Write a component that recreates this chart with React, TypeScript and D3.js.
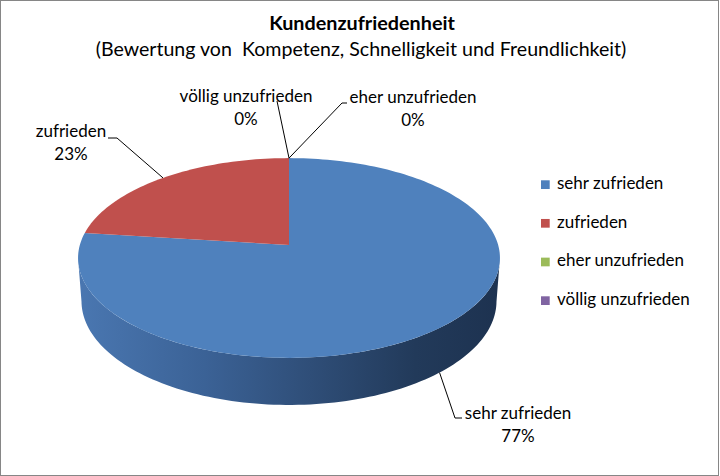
import * as d3 from "d3";
import React from "react";

// chart values
const categories = ["sehr zufrieden", "zufrieden", "eher unzufrieden", "völlig unzufrieden"];
const values = [77, 23, 0, 0];
const percentLabels = ["77%", "23%", "0%", "0%"];

const colors = ["#4f81bd", "#c0504d", "#9bbb59", "#8064a2"];

const width = 720;
const height = 476;
const font = "Lato, 'Liberation Sans', sans-serif";

// 3d view of the pie (perspective camera looking down)
const cx = 289;
const cy = 245;
const focal = 1420;
const dist = 6.789;
const tilt = (28 * Math.PI) / 180;
const thick = 0.2358;
const sinT = Math.sin(tilt);
const cosT = Math.cos(tilt);

const project = (a: number, level: number): [number, number] => {
  const X = Math.sin(a);
  const Z = -Math.cos(a);
  const Y = level * thick;
  const depth = dist - Y * sinT - Z * cosT;
  return [cx + (focal * X) / depth, cy + (focal * (Z * sinT - Y * cosT)) / depth];
};

const sample = (a0: number, a1: number, level: number) => {
  const n = Math.max(2, Math.ceil((Math.abs(a1 - a0) / (2 * Math.PI)) * 240));
  return d3.range(n + 1).map((i) => project(a0 + ((a1 - a0) * i) / n, level));
};

// silhouette angles of the rim (where the screen x is extreme)
const rimAngles = d3.range(0, 2 * Math.PI, Math.PI / 1800);
const rightA = rimAngles[d3.maxIndex(rimAngles, (a) => project(a, 0)[0])];
const leftA = rimAngles[d3.minIndex(rimAngles, (a) => project(a, 0)[0])];

// label placement (text centre, first baseline, leader elbow and tail)
const labelLayout = [
  { tx: 518, ty: 419, elbow: [455, 418], tail: [462, 418] },
  { tx: 71, ty: 137, elbow: [117, 138], tail: [108, 138] },
  { tx: 413, ty: 103, elbow: [342, 103], tail: [347, 103] },
  { tx: 246, ty: 102, elbow: [277, 101], tail: [277, 101] },
];

export default function App() {
  const arcs = d3.pie<number>().sort(null)(values);
  const line = d3.line();

  const legendY = d3.scalePoint<string>().domain(categories).range([189, 305]);

  const sideX = [project(leftA, 0)[0], project(rightA, 0)[0]];

  return (
    <svg
      width={width}
      height={height}
      style={{ position: "absolute", left: 0, top: 0, background: "#fff" }}
      fontFamily={font}
    >
      <defs>
        <linearGradient id="side0" gradientUnits="userSpaceOnUse" x1={sideX[0]} x2={sideX[1]} y1={0} y2={0}>
          <stop offset="0" stopColor="#4a77b1" />
          <stop offset="0.3" stopColor="#3b6296" />
          <stop offset="0.55" stopColor="#2f4e78" />
          <stop offset="0.8" stopColor="#223a5a" />
          <stop offset="1" stopColor="#1d3250" />
        </linearGradient>
        <linearGradient id="side1" gradientUnits="userSpaceOnUse" x1={sideX[0]} x2={sideX[1]} y1={0} y2={0}>
          <stop offset="0" stopColor="#b34a47" />
          <stop offset="1" stopColor="#5e2524" />
        </linearGradient>
      </defs>
      <rect x={0.5} y={0.5} width={718} height={475} fill="#fff" stroke="#868686" />

      <text x={362} y={30} textAnchor="middle" fontWeight="bold" fontSize={19.8}>
        Kundenzufriedenheit
      </text>
      <text x={361} y={56} textAnchor="middle" fontSize={19.6} style={{ whiteSpace: "pre" }}>
        (Bewertung von  Kompetenz, Schnelligkeit und Freundlichkeit)
      </text>

      {/* side walls of the front slices */}
      {arcs.map((d, i) => {
        const a0 = Math.max(d.startAngle, rightA);
        const a1 = Math.min(d.endAngle, leftA);
        if (a1 <= a0) return null;
        const pts = [...sample(a0, a1, 0), ...sample(a1, a0, -1)];
        return <path key={"s" + i} d={line(pts) + "Z"} fill={`url(#side${i})`} />;
      })}

      {/* top faces */}
      {arcs.map((d, i) => {
        if (d.endAngle - d.startAngle <= 0) return null;
        const pts = [[cx, cy] as [number, number], ...sample(d.startAngle, d.endAngle, 0)];
        return <path key={"t" + i} d={line(pts) + "Z"} fill={colors[i]} />;
      })}

      {/* data labels with leader lines */}
      {arcs.map((d, i) => {
        const mid = (d.startAngle + d.endAngle) / 2;
        const front = mid > rightA && mid < leftA;
        const anchor = project(mid, front ? -1 : 0);
        const lay = labelLayout[i];
        return (
          <g key={"l" + i}>
            <path
              d={line([anchor, lay.elbow as [number, number], lay.tail as [number, number]])!}
              fill="none"
              stroke="#000"
              strokeWidth={1}
            />
            <text x={lay.tx} y={lay.ty} textAnchor="middle" fontSize={17}>
              {categories[i]}
            </text>
            <text x={lay.tx} y={lay.ty + 23} textAnchor="middle" fontSize={17}>
              {percentLabels[i]}
            </text>
          </g>
        );
      })}

      {/* legend */}
      {categories.map((c, i) => (
        <g key={"g" + i} transform={`translate(541,${legendY(c)})`}>
          <rect x={0} y={-8.7} width={8.7} height={8.7} fill={colors[i]} />
          <text x={16} y={0} fontSize={17}>
            {c}
          </text>
        </g>
      ))}
    </svg>
  );
}
